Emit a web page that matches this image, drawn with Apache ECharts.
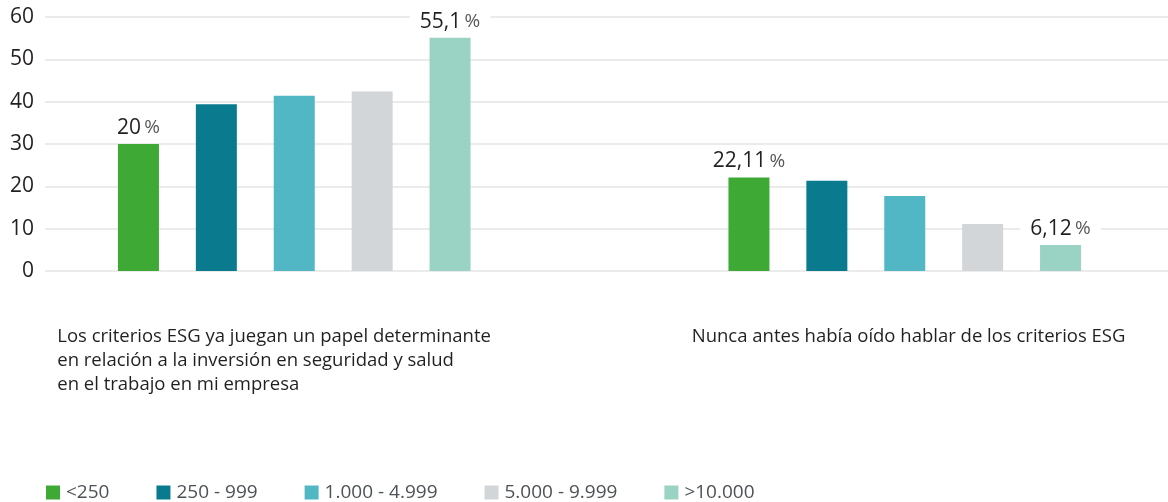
<!DOCTYPE html>
<html><head><meta charset="utf-8">
<script src="https://cdn.jsdelivr.net/npm/echarts@6/dist/echarts.min.js"></script>
<style>html,body{margin:0;padding:0;background:#fff}#c{width:1168px;height:502px}</style>
</head><body><div id="c"></div>
<script>
// ---- data ----
const categories = [
  'Los criterios ESG ya juegan un papel determinante\nen relación a la inversión en seguridad y salud\nen el trabajo en mi empresa',
  'Nunca antes había oído hablar de los criterios ESG'
];
const seriesNames = ['<250', '250 - 999', '1.000 - 4.999', '5.000 - 9.999', '>10.000'];
const valuesLt250 = [30, 22.11];
const values250to999 = [39.4, 21.3];
const values1000to4999 = [41.4, 17.7];
const values5000to9999 = [42.4, 11.1];
const valuesGt10000 = [55.1, 6.12];
// printed bar labels (null = no label)
const labelsLt250 = ['20', '22,11'];
const labelsGt10000 = ['55,1', '6,12'];
const labelsNone = [null, null];
const yMin = 0, yMax = 60, yInterval = 10;

// ---- styles ----
const colors = ['#3ea935', '#0a7a8f', '#52b7c4', '#d3d6d9', '#9ad2c3'];
const font = '"Open Sans", "Noto Sans", sans-serif';

const allValues = [valuesLt250, values250to999, values1000to4999, values5000to9999, valuesGt10000];
const allLabels = [labelsLt250, labelsNone, labelsNone, labelsNone, labelsGt10000];

const series = seriesNames.map((name, si) => ({
  name: name,
  type: 'bar',
  xAxisIndex: 1,
  yAxisIndex: 1,
  barWidth: 41,
  barGap: '90%',
  itemStyle: { color: colors[si] },
  data: allValues[si].map((v, ci) => {
    const t = allLabels[si][ci];
    const item = { value: v };
    if (t !== null) {
      item.label = {
        show: true,
        position: 'top',
        distance: 3,
        backgroundColor: '#fff',
        padding: [2, 10, 0, 10],
        formatter: '{n|' + t + '} {p|%}',
        rich: {
          n: { fontFamily: font, fontSize: 21, color: '#231f20', lineHeight: 26 },
          p: { fontFamily: font, fontSize: 19, color: '#58595b', lineHeight: 26 }
        }
      };
    }
    return item;
  })
}));

const chart = echarts.init(document.getElementById('c'), null, { renderer: 'canvas' });
chart.setOption({
  animation: false,
  backgroundColor: '#fff',
  color: colors,
  grid: [
    { left: 45, right: 0, top: 17, bottom: 231, containLabel: false, outerBoundsMode: 'none' },
    { left: -11, right: -42, top: 17, bottom: 231, containLabel: false, outerBoundsMode: 'none' }
  ],
  xAxis: [
    { type: 'value', gridIndex: 0, show: false, min: 0, max: 1 },
    {
      type: 'category', gridIndex: 1, data: categories,
      axisLine: { show: false }, axisTick: { show: false },
      axisLabel: {
        interval: 0,
        margin: 54,
        hideOverlap: false,
        formatter: function (val, idx) {
          const key = idx === 0 ? 'a' : 'b';
          return val.split('\n').map(l => '{' + key + '|' + l + '}').join('\n');
        },
        rich: {
          a: { fontFamily: font, fontSize: 18.5, color: '#231f20', align: 'left', width: 474, lineHeight: 24 },
          b: { fontFamily: font, fontSize: 18.5, color: '#231f20', align: 'left', width: 426, lineHeight: 24 }
        }
      }
    }
  ],
  yAxis: [
    {
      type: 'value', gridIndex: 0, min: yMin, max: yMax, interval: yInterval,
      axisLine: { show: false }, axisTick: { show: false },
      axisLabel: { fontFamily: font, fontSize: 21, color: '#231f20', margin: 11 },
      splitLine: { lineStyle: { color: '#e4e4e4', width: 1.5 } }
    },
    {
      type: 'value', gridIndex: 1, min: yMin, max: yMax, interval: yInterval, show: false,
      splitLine: { show: false }
    }
  ],
  legend: {
    left: 46, top: 483, padding: 0,
    icon: 'rect', itemWidth: 14, itemHeight: 14, itemGap: 47,
    textStyle: { fontFamily: font, fontSize: 19, color: '#4d5257', padding: [0, 0, 0, 1] },
    data: seriesNames
  },
  series: series
});
</script>
</body></html>
